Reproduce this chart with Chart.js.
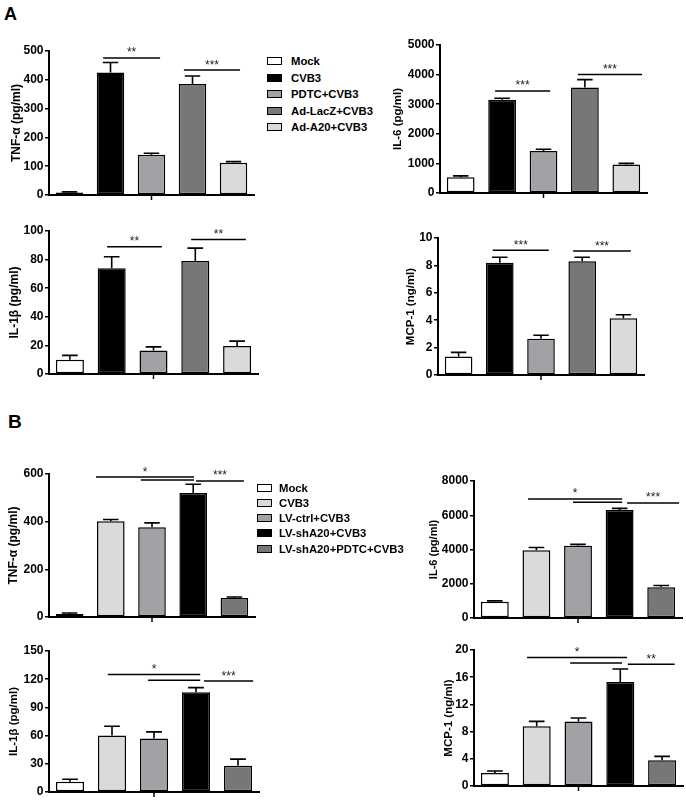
<!DOCTYPE html>
<html>
<head>
<meta charset="utf-8">
<script src="https://cdn.jsdelivr.net/npm/chart.js@4.4.1/dist/chart.umd.min.js"></script>
<style>
  body { margin: 0; width: 686px; height: 800px; overflow: hidden; position: relative; background: #fff; font-family: "Liberation Sans", Arial, sans-serif; }
  canvas { position: absolute; }
  .tag { position: absolute; font-weight: bold; line-height: 1; }
  .key { position: absolute; height: 14px; line-height: 14px; font-size: 11.3px; font-weight: bold; white-space: nowrap; }
  .swatch { position: absolute; box-sizing: border-box; width: 15px; height: 8px; border: 1.5px solid #000; }
</style>
</head>
<body>
<div class="tag" style="left:4px;top:5px;font-size:18px">A</div>
<div class="tag" style="left:8px;top:412px;font-size:19px">B</div>
<script>
// groups
const groupsA = ['Mock', 'CVB3', 'PDTC+CVB3', 'Ad-LacZ+CVB3', 'Ad-A20+CVB3'];
const groupsB = ['Mock', 'CVB3', 'LV-ctrl+CVB3', 'LV-shA20+CVB3', 'LV-shA20+PDTC+CVB3'];

// panel A: mean and SEM
const tnfA = [9, 425, 140, 385, 112];
const tnfASem = [2, 35, 5, 28, 4];
const il6A = [530, 3150, 1420, 3560, 960];
const il6ASem = [50, 50, 60, 270, 40];
const il1bA = [10, 74, 16.5, 79, 19.5];
const il1bASem = [3, 8, 2.5, 9, 3.5];
const mcp1A = [1.35, 8.2, 2.65, 8.3, 4.15];
const mcp1ASem = [0.3, 0.4, 0.25, 0.3, 0.25];

// panel B: mean and SEM
const tnfB = [13, 402, 377, 520, 80];
const tnfBSem = [4, 7, 18, 37, 4];
const il6B = [950, 3950, 4220, 6300, 1800];
const il6BSem = [50, 170, 80, 100, 100];
const il1bB = [11, 60, 57, 106, 28];
const il1bBSem = [2.5, 10, 7, 5, 7];
const mcp1B = [1.9, 8.8, 9.5, 15.3, 3.8];
const mcp1BSem = [0.3, 0.7, 0.5, 1.9, 0.55];

// y tick labels
const tnfATicks = [0, 100, 200, 300, 400, 500];
const il6ATicks = [0, 1000, 2000, 3000, 4000, 5000];
const il1bATicks = [0, 20, 40, 60, 80, 100];
const mcp1ATicks = [0, 2, 4, 6, 8, 10];
const tnfBTicks = [0, 200, 400, 600];
const il6BTicks = [0, 2000, 4000, 6000, 8000];
const il1bBTicks = [0, 30, 60, 90, 120, 150];
const mcp1BTicks = [0, 4, 8, 12, 16, 20];

// significance lines: [from group, to group, value, label]
const tnfASig = [[0.82, 2.21, 476, '**'], [2.79, 4.16, 434, '***']];
const il6ASig = [[0.83, 2.16, 3450, '***'], [2.83, 4.38, 4000, '***']];
const il1bASig = [[0.89, 2.2, 89, '**'], [2.9, 4.21, 94, '**']];
const mcp1ASig = [[0.83, 2.19, 9.1, '***'], [2.78, 4.18, 9.05, '***']];
const tnfBSig = [[0.64, 3.02, 587, '*'], [1.73, 3.02, 575, ''], [3.07, 4.23, 571, '***']];
const il6BSig = [[0.8, 3.06, 6950, '*'], [1.88, 3.06, 6760, ''], [3.18, 4.43, 6720, '***']];
const il1bBSig = [[0.9, 3.1, 125, '*'], [1.86, 3.1, 119, ''], [3.19, 4.36, 118, '***']];
const mcp1BSig = [[0.77, 3.16, 18.9, '*'], [1.8, 3.04, 18.1, ''], [3.18, 4.3, 17.9, '**']];

const colorsA = ['#ffffff', '#000000', '#a2a2a6', '#777777', '#dadada'];
const colorsB = ['#ffffff', '#dadada', '#a2a2a6', '#000000', '#777777'];

Chart.defaults.font.family = '"Liberation Sans", Arial, sans-serif';
Chart.defaults.color = '#000';

const errorBars = {
  id: 'errorBars',
  afterDatasetsDraw(chart, args, opts) {
    const y = chart.scales.y;
    const ctx = chart.ctx;
    const vals = chart.data.datasets[0].data;
    ctx.save();
    ctx.strokeStyle = '#000';
    ctx.lineWidth = 1.6;
    chart.getDatasetMeta(0).data.forEach((bar, i) => {
      const top = y.getPixelForValue(vals[i] + opts.sem[i]);
      const half = bar.width * 0.28;
      ctx.beginPath();
      ctx.moveTo(bar.x, bar.y);
      ctx.lineTo(bar.x, top);
      ctx.moveTo(bar.x - half, top);
      ctx.lineTo(bar.x + half, top);
      ctx.stroke();
    });
    ctx.restore();
  }
};

const sigLines = {
  id: 'sigLines',
  afterDraw(chart, args, opts) {
    const x = chart.scales.x, y = chart.scales.y, ctx = chart.ctx;
    ctx.save();
    ctx.strokeStyle = '#000';
    ctx.lineWidth = 1.5;
    ctx.fillStyle = '#222';
    ctx.font = '12px "Liberation Sans", Arial, sans-serif';
    ctx.textAlign = 'center';
    opts.lines.forEach(([a, b, v, label]) => {
      const x1 = x.getPixelForValue(a), x2 = x.getPixelForValue(b), yy = y.getPixelForValue(v);
      ctx.beginPath();
      ctx.moveTo(x1, yy);
      ctx.lineTo(x2, yy);
      ctx.stroke();
      if (label) ctx.fillText(label, (x1 + x2) / 2, yy - 1.5);
    });
    // single tick under the middle group
    const cx = x.getPixelForValue(2);
    const b = chart.chartArea.bottom;
    ctx.beginPath();
    ctx.moveTo(cx, b);
    ctx.lineTo(cx, b + 5);
    ctx.stroke();
    ctx.restore();
  }
};

function drawPanel(p, labels, values, sem, colors, ticks, sig) {
  const cv = document.createElement('canvas');
  const left = p.titleX - 10, top = p.top - 24;
  cv.width = p.right + 6 - left;
  cv.height = p.bottom + 12 - top;
  cv.style.left = left + 'px';
  cv.style.top = top + 'px';
  document.body.appendChild(cv);
  new Chart(cv, {
    type: 'bar',
    data: {
      labels: labels,
      datasets: [{
        data: values,
        backgroundColor: colors,
        borderColor: '#000',
        borderWidth: 1.5,
        borderSkipped: false,
        barPercentage: 0.67,
        categoryPercentage: 1
      }]
    },
    options: {
      responsive: false,
      animation: false,
      devicePixelRatio: 1,
      layout: { padding: { top: 24, right: 6, bottom: 12, left: 0 } },
      plugins: {
        legend: { display: false },
        tooltip: { enabled: false },
        errorBars: { sem: sem },
        sigLines: { lines: sig }
      },
      scales: {
        x: {
          ticks: { display: false },
          grid: { display: false },
          border: { color: '#000', width: 2 },
          afterFit: s => { s.height = 0; }
        },
        y: {
          min: ticks[0],
          max: ticks[ticks.length - 1],
          afterBuildTicks: s => { s.ticks = ticks.map(v => ({ value: v })); },
          ticks: { color: '#000', padding: 1.5, font: { size: 12, weight: 'bold' }, callback: v => String(v) },
          grid: { drawOnChartArea: false, drawTicks: true, tickLength: 4, color: '#000', lineWidth: 1.5 },
          border: { color: '#000', width: 2 },
          title: {
            display: true, text: p.title, color: '#000',
            font: { size: p.fs, weight: 'bold' },
            padding: { top: 10 - p.fs * 0.6, bottom: 0 }
          },
          afterFit: s => { s.width = p.axisX - left; }
        }
      }
    },
    plugins: [errorBars, sigLines]
  });
}

function drawLegend(labels, colors, swatchX, textX, y0, step) {
  labels.forEach((name, i) => {
    const cy = y0 + i * step;
    const sw = document.createElement('div');
    sw.className = 'swatch';
    sw.style.left = swatchX + 'px';
    sw.style.top = (cy - 4) + 'px';
    sw.style.background = colors[i];
    document.body.appendChild(sw);
    const t = document.createElement('div');
    t.className = 'key';
    t.style.left = textX + 'px';
    t.style.top = (cy - 7) + 'px';
    t.textContent = name;
    document.body.appendChild(t);
  });
}

drawPanel({ titleX: 17, axisX: 49, right: 254, top: 51, bottom: 195, title: 'TNF-α (pg/ml)', fs: 12 },
  groupsA, tnfA, tnfASem, colorsA, tnfATicks, tnfASig);
drawPanel({ titleX: 398, axisX: 440, right: 647, top: 45, bottom: 193, title: 'IL-6 (pg/ml)', fs: 11.5 },
  groupsA, il6A, il6ASem, colorsA, il6ATicks, il6ASig);
drawPanel({ titleX: 15, axisX: 49, right: 258, top: 231, bottom: 374, title: 'IL-1β (pg/ml)', fs: 12 },
  groupsA, il1bA, il1bASem, colorsA, il1bATicks, il1bASig);
drawPanel({ titleX: 411, axisX: 438, right: 644, top: 238, bottom: 375, title: 'MCP-1 (ng/ml)', fs: 11.5 },
  groupsA, mcp1A, mcp1ASem, colorsA, mcp1ATicks, mcp1ASig);
drawPanel({ titleX: 14, axisX: 49, right: 255, top: 474, bottom: 617, title: 'TNF-α (pg/ml)', fs: 12 },
  groupsB, tnfB, tnfBSem, colorsB, tnfBTicks, tnfBSig);
drawPanel({ titleX: 434, axisX: 474, right: 682, top: 481, bottom: 618, title: 'IL-6 (pg/ml)', fs: 11 },
  groupsB, il6B, il6BSem, colorsB, il6BTicks, il6BSig);
drawPanel({ titleX: 14, axisX: 49, right: 259, top: 651, bottom: 792, title: 'IL-1β (pg/ml)', fs: 11.5 },
  groupsB, il1bB, il1bBSem, colorsB, il1bBTicks, il1bBSig);
drawPanel({ titleX: 449, axisX: 474, right: 683, top: 650, bottom: 786, title: 'MCP-1 (ng/ml)', fs: 11.5 },
  groupsB, mcp1B, mcp1BSem, colorsB, mcp1BTicks, mcp1BSig);

drawLegend(groupsA, colorsA, 267, 291, 61, 16.5);
drawLegend(groupsB, colorsB, 257, 279, 487.5, 15.3);
</script>
</body>
</html>
